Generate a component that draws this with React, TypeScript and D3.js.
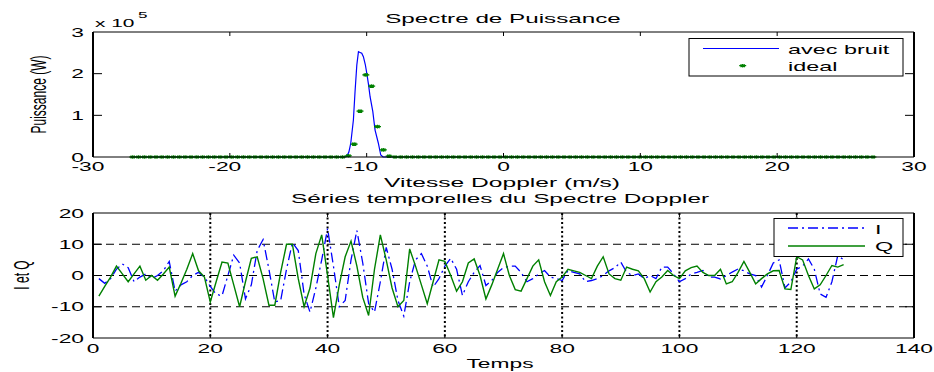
import React from 'react';
import * as d3 from 'd3';

// ---------- Data ----------
const spectrumTicksX = [-30, -20, -10, 0, 10, 20, 30];
const spectrumTicksY = [0, 1, 2, 3]; // x 10^5
const noisyV = [-27, -11.6, -11.45, -11.3, -11.16, -10.97, -10.85, -10.72, -10.6, -10.48, -10.36, -10.24, -10.1, -9.99, -9.87, -9.75, -9.55, -9.39, -9.15, -8.97, -8.8, 27];
const noisyP = [0, 0, 2000, 12000, 33600, 88800, 156700, 220800, 252700, 251000, 248900, 240700, 222000, 200900, 175000, 144700, 108700, 64800, 33600, 4800, 0, 0];
const idealVMin = -27.1;
const idealVMax = 27.0;
const idealP = [
  0, 0, 0, 0, 0, 0, 0, 0, 0, 0, 0, 0, 0, 0, 0, 0,
  0, 0, 0, 0, 0, 0, 0, 0, 0, 0, 0, 0, 0, 0, 0, 0,
  0, 0, 0, 0, 0, 3000, 31000, 110000, 197000, 170000, 73000, 17000, 2000, 0, 0, 0,
  0, 0, 0, 0, 0, 0, 0, 0, 0, 0, 0, 0, 0, 0, 0, 0,
  0, 0, 0, 0, 0, 0, 0, 0, 0, 0, 0, 0, 0, 0, 0, 0,
  0, 0, 0, 0, 0, 0, 0, 0, 0, 0, 0, 0, 0, 0, 0, 0,
  0, 0, 0, 0, 0, 0, 0, 0, 0, 0, 0, 0, 0, 0, 0, 0,
  0, 0, 0, 0, 0, 0, 0, 0, 0, 0, 0, 0, 0, 0, 0, 0,
];

const timeTicksX = [0, 20, 40, 60, 80, 100, 120, 140];
const timeTicksY = [-20, -10, 0, 10, 20];
const seriesI = [
  -1, -2.5, -1, 2, 3.7, 2.5, -2, -0.5, 0.5, -1, 0, 1.5, 4.5, -5, -3, -2,
  0, 1, -0.5, -3.5, -6, -6.5, 0, 6.5, 4, -7.5, -3, 8, 11.5, 2, -8.5, -8,
  2, 10.5, 8, -6, -11.7, -4, 5, 15, 3, -10, -8, 5, 14.4, 4, -9, -11.7,
  -2, 9, 2, -8, -13, -2, 5, 7, 3, -3.7, -1, 3, 5.5, 2, -6.4, -2,
  1, 3.2, -3.2, -1.6, 1, 2.5, 3, 3, 1, -2, -1, 0.5, 1.6, -0.5, -1, -1.6,
  1.6, 1, 0.5, -2, -1.6, -1, 0, 1.5, 2.5, 4.3, 1, 0, 0.5, -1, 0, -1,
  2.7, 2.7, 0.5, -2, -1, 0.5, 1, 1.6, -0.5, -0.5, -1.1, 0, 1.1, 2.1, 1.5, 0.5,
  0, -3.7, 0, 4, 5, -4, -2, 2, 3, 5.3, 2, -5.9, -7, -2, 6.4, 5,
];
const seriesQ = [
  -6.6, -3.5, -0.5, 3, 0.5, -2, 0.5, 3, -1.5, 0, -1.5, 0.5, 2.7, -6.6, -2.5, 2,
  7, 1.5, -0.5, -8.5, -2, 4.3, 4, -3, -10, -2, 5.5, 6, -1, -9.5, -9.5, 1,
  10, 10, -1, -10, -4, 7, 13, 0, -13.5, -3, 6, 11, 3, -7, -12.8, 2,
  13, 5, -4, -10, -8, 8.5, 3, -3, -9, -2, 5, 4.5, 0, -5, -2, 4,
  5.3, 0, -7.5, -3, 2, 7, 0, -4.5, -5, -1, 3, 5, -2, -6.4, -2, -0.5,
  2, 1.5, 1, 0, -1, 3, 6, 0.5, -1, -1.5, 2.7, 2, 1.5, -1, -5.3, -2,
  -0.5, 1.6, 0, -1, 1.5, 2.5, 3, 1, 0, 0, 2, -2.7, -2, 1, 4.5, 1,
  -2.7, -1, 0.5, 1.5, 1.6, -4.3, -4.5, 6, 5, 0, -4.3, -3, 0, 3.2, 2.7, 3.5,
];

// ---------- Layout ----------
const W = 934;
const H = 372;
const FONT = "'Liberation Sans', Arial, Helvetica, sans-serif";
const L = 93, R = 914;
const TOP = { t: 32, b: 157 };
const BOT = { t: 213, b: 338 };

const blue = '#0000ff';
const green = '#008000';

type TxtProps = {
  x: number; y: number; children: React.ReactNode; anchor?: 'start' | 'middle' | 'end';
  size?: number; sx?: number; rotate?: boolean;
};
function Txt({ x, y, children, anchor = 'middle', size = 12, sx = 1.9, rotate = false }: TxtProps) {
  return (
    <text
      transform={`translate(${x},${y}) scale(${sx},1)${rotate ? ' rotate(-90)' : ''}`}
      textAnchor={anchor}
      fontSize={size}
      fontFamily={FONT}
      fill="#000"
    >
      {children}
    </text>
  );
}

function Box({ t, b }: { t: number; b: number }) {
  return (
    <g stroke="#000" fill="none">
      <line x1={L} x2={R} y1={t} y2={t} strokeWidth={1} />
      <line x1={L} x2={R} y1={b} y2={b} strokeWidth={1} />
      <line x1={L} x2={L} y1={t} y2={b} strokeWidth={2} />
      <line x1={R} x2={R} y1={t} y2={b} strokeWidth={2} />
    </g>
  );
}

function StarMarker({ x, y }: { x: number; y: number }) {
  return (
    <path
      d={`M${x - 3.5},${y}H${x + 3.5}M${x},${y - 1.8}V${y + 1.8}M${x - 2.2},${y - 1.3}L${x + 2.2},${y + 1.3}M${x - 2.2},${y + 1.3}L${x + 2.2},${y - 1.3}`}
      stroke={green}
      strokeWidth={1.2}
      fill="none"
    />
  );
}

export default function App() {
  // top scales
  const sx1 = d3.scaleLinear().domain([-30, 30]).range([L, R]);
  const sy1 = d3.scaleLinear().domain([0, 3e5]).range([TOP.b, TOP.t]);
  // bottom scales
  const sx2 = d3.scaleLinear().domain([0, 140]).range([L, R]);
  const sy2 = d3.scaleLinear().domain([-20, 20]).range([BOT.b, BOT.t]);

  const noisyLine = d3.line<number>()
    .x((_, i) => sx1(noisyV[i]))
    .y((d) => sy1(d));

  const idealV = d3.range(idealP.length).map(
    (k) => idealVMin + (k * (idealVMax - idealVMin)) / (idealP.length - 1)
  );

  const tsLine = d3.line<number>()
    .x((_, i) => sx2(i + 1))
    .y((d) => sy2(d));

  return (
    <svg
      width={W}
      height={H}
      viewBox={`0 0 ${W} ${H}`}
      style={{ position: 'absolute', left: 0, top: 0, background: '#fff' }}
    >
      <rect x={0} y={0} width={W} height={H} fill="#fff" />

      {/* ================= TOP PLOT ================= */}
      <Txt x={503} y={23} sx={2.02}>Spectre de Puissance</Txt>
      {/* data */}
      <path d={noisyLine(noisyP) || ''} fill="none" stroke={blue} strokeWidth={1.2} />
      {idealP.map((p, k) => (
        <StarMarker key={k} x={sx1(idealV[k])} y={sy1(p)} />
      ))}
      <Box t={TOP.t} b={TOP.b} />
      {/* ticks */}
      <g stroke="#000" strokeWidth={1}>
        {spectrumTicksX.slice(1, -1).map((v) => (
          <g key={v}>
            <line x1={sx1(v)} x2={sx1(v)} y1={TOP.b} y2={TOP.b - 4} />
            <line x1={sx1(v)} x2={sx1(v)} y1={TOP.t} y2={TOP.t + 4} />
          </g>
        ))}
        {spectrumTicksY.slice(1, -1).map((v) => (
          <g key={v}>
            <line x1={L} x2={L + 9} y1={sy1(v * 1e5)} y2={sy1(v * 1e5)} />
            <line x1={R} x2={R - 9} y1={sy1(v * 1e5)} y2={sy1(v * 1e5)} />
          </g>
        ))}
      </g>
      {spectrumTicksX.map((v) => (
        <Txt key={v} x={sx1(v) - (v < 0 ? 5 : 0)} y={171}>{String(v)}</Txt>
      ))}
      {spectrumTicksY.map((v) => (
        <Txt key={v} x={84} y={sy1(v * 1e5) + 4.5} anchor="end">{String(v)}</Txt>
      ))}
      <Txt x={95} y={27} anchor="start" size={11}>x 10</Txt>
      <Txt x={138} y={18} anchor="start" size={9}>5</Txt>
      <Txt x={46} y={94.5} rotate>Puissance (W)</Txt>
      <Txt x={502} y={187} sx={2.05}>Vitesse Doppler (m/s)</Txt>

      {/* legend top */}
      <g>
        <rect x={689} y={38.5} width={214} height={37.5} fill="#fff" stroke="#000" strokeWidth={1} />
        <line x1={703} x2={779} y1={48.5} y2={48.5} stroke={blue} strokeWidth={1.2} />
        <Txt x={788} y={53.5} anchor="start" sx={1.95}>avec bruit</Txt>
        <StarMarker x={742.7} y={65.7} />
        <Txt x={788} y={70.7} anchor="start" sx={1.95}>ideal</Txt>
      </g>

      {/* ================= BOTTOM PLOT ================= */}
      <Txt x={500} y={203} sx={2.03}>Séries temporelles du Spectre Doppler</Txt>
      {/* grid */}
      <g stroke="#000" fill="none">
        {timeTicksY.slice(1, -1).map((v) => (
          <line key={v} x1={L} x2={R} y1={sy2(v)} y2={sy2(v)} strokeDasharray="8,5" strokeWidth={1} />
        ))}
        {timeTicksX.slice(1, -1).map((v) => (
          <line key={v} x1={sx2(v)} x2={sx2(v)} y1={BOT.t} y2={BOT.b} strokeDasharray="2,2.5" strokeWidth={2} />
        ))}
      </g>
      {/* data */}
      <path d={tsLine(seriesI) || ''} fill="none" stroke={blue} strokeWidth={1.3} strokeDasharray="10,4,2,4" />
      <path d={tsLine(seriesQ) || ''} fill="none" stroke={green} strokeWidth={1.4} />
      <Box t={BOT.t} b={BOT.b} />
      <g stroke="#000" strokeWidth={1}>
        {timeTicksX.slice(1, -1).map((v) => (
          <g key={v}>
            <line x1={sx2(v)} x2={sx2(v)} y1={BOT.b} y2={BOT.b - 4} />
            <line x1={sx2(v)} x2={sx2(v)} y1={BOT.t} y2={BOT.t + 4} />
          </g>
        ))}
        {timeTicksY.slice(1, -1).map((v) => (
          <g key={v}>
            <line x1={L} x2={L + 9} y1={sy2(v)} y2={sy2(v)} />
            <line x1={R} x2={R - 9} y1={sy2(v)} y2={sy2(v)} />
          </g>
        ))}
      </g>
      {timeTicksX.map((v) => (
        <Txt key={v} x={sx2(v)} y={353}>{String(v)}</Txt>
      ))}
      {timeTicksY.map((v) => (
        <Txt key={v} x={84} y={sy2(v) + 4.5} anchor="end">{String(v)}</Txt>
      ))}
      <Txt x={29} y={275} rotate>I et Q</Txt>
      <Txt x={500} y={367.5} sx={1.9}>Temps</Txt>

      {/* legend bottom */}
      <g>
        <rect x={774} y={218.5} width={129} height={38} fill="#fff" stroke="#000" strokeWidth={1} />
        <line x1={788} x2={865} y1={228} y2={228} stroke={blue} strokeWidth={1.3} strokeDasharray="10,4,2,4" />
        <Txt x={875} y={233.5} anchor="start" sx={1.95}>I</Txt>
        <line x1={788} x2={865} y1={246} y2={246} stroke={green} strokeWidth={1.4} />
        <Txt x={875} y={251} anchor="start" sx={1.95}>Q</Txt>
      </g>
    </svg>
  );
}
